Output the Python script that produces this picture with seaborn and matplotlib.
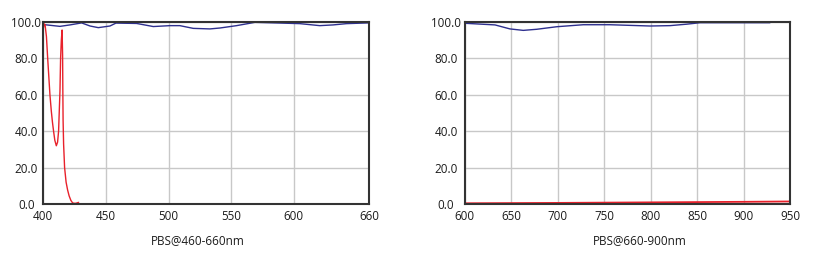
import matplotlib
matplotlib.use("Agg")
import matplotlib.pyplot as plt
import seaborn as sns
import pandas as pd

# ---- data ----
left_blue_nm = [400, 413.3, 421.3, 430.6, 437.3, 443.9, 453.2, 458, 474.5, 487.8, 501.1, 509,
                519.7, 533, 541, 554.3, 568.9, 590, 604.8, 620.7, 631.4, 642, 659.3]
left_blue_val = [98.6, 97.6, 98.4, 99.5, 97.8, 96.9, 97.8, 99.4, 99.2, 97.5, 98.0, 98.0,
                 96.5, 96.2, 96.7, 98.0, 99.8, 99.4, 99.1, 98.0, 98.4, 99.1, 99.5]

left_red_nm = [400, 400.7, 401.4, 402.5, 403.5, 404.4, 405.3, 406.4, 407.3, 408.2, 409.2, 410.4,
               411.4, 412.2, 412.8, 413.3, 413.8, 414.4, 415.0, 415.4, 415.6, 415.8, 416.2,
               417.0, 418.2, 419.4, 420.6, 422.0, 423.2, 424.2, 426.0, 428.2]
left_red_val = [96.5, 99, 98.5, 92, 80, 70, 60, 51, 45, 40, 35, 32,
                34, 40, 52, 62, 80, 90, 95.6, 82, 62, 46, 33,
                20, 12, 7.7, 4.5, 2.0, 0.8, 0.4, 0.4, 0.9]

right_blue_nm = [600, 632.6, 648.7, 663, 677.5, 699, 727.6, 756.3, 799.4, 820.9, 838.8, 853.2, 928.5]
right_blue_val = [99.3, 98.4, 96.2, 95.4, 96.0, 97.4, 98.5, 98.5, 97.8, 98.0, 98.8, 99.6, 99.6]

right_red_nm = [600, 700, 800, 900, 950]
right_red_val = [0.4, 0.6, 0.9, 1.2, 1.4]

left_xticks = [400, 450, 500, 550, 600, 660]
right_xticks = [600, 650, 700, 750, 800, 850, 900, 950]
yticks = [0, 20, 40, 60, 80, 100]
ytick_labels = ["0.0", "20.0", "40.0", "60.0", "80.0", "100.0"]
left_title = "PBS@460-660nm"
right_title = "PBS@660-900nm"

BLUE = "#2d2f8e"
RED = "#e8212b"

sns.set_theme(style="white")
plt.rcParams["font.family"] = ["Open Sans", "DejaVu Sans"]

fig = plt.figure(figsize=(8.17, 2.56), dpi=100)
axL = fig.add_axes([43.3 / 817, 1 - 204 / 256, (369 - 43.3) / 817, 182 / 256])
axR = fig.add_axes([464.7 / 817, 1 - 204 / 256, (790 - 464.7) / 817, 182 / 256])


def style(ax, xlim, xticks, xlabel, ypad, label_x):
    ax.set_xlim(*xlim)
    ax.set_ylim(0, 100)
    ax.set_xticks(xticks)
    ax.set_xticklabels([str(t) for t in xticks])
    ax.set_yticks(yticks)
    ax.set_yticklabels(ytick_labels, ha="center")
    ax.grid(True, color="#c8c8c8", linewidth=1.0)
    ax.set_axisbelow(True)
    for s in ax.spines.values():
        s.set_visible(True)
        s.set_color("#333333")
        s.set_linewidth(1.5)
    ax.tick_params(axis="both", length=0, labelsize=8.4, colors="#1c1c1c")
    ax.tick_params(axis="x", pad=4)
    ax.tick_params(axis="y", pad=ypad)
    ax.set_xlabel(xlabel, fontsize=8.5, color="#1c1c1c", va="center")
    ax.xaxis.set_label_coords(label_x, -0.203)
    ax.set_ylabel("")


dfLb = pd.DataFrame({"nm": left_blue_nm, "val": left_blue_val})
dfLr = pd.DataFrame({"nm": left_red_nm, "val": left_red_val})
dfRb = pd.DataFrame({"nm": right_blue_nm, "val": right_blue_val})
dfRr = pd.DataFrame({"nm": right_red_nm, "val": right_red_val})

sns.lineplot(data=dfLb, x="nm", y="val", ax=axL, color=BLUE, linewidth=1.0, sort=False)
sns.lineplot(data=dfLr, x="nm", y="val", ax=axL, color=RED, linewidth=1.0, sort=False)
sns.lineplot(data=dfRb, x="nm", y="val", ax=axR, color=BLUE, linewidth=1.0, sort=False)
sns.lineplot(data=dfRr, x="nm", y="val", ax=axR, color=RED, linewidth=1.3, sort=False)

style(axL, (400, 660), left_xticks, left_title, 12.3, 0.474)
style(axR, (600, 950), right_xticks, right_title, 13.5, 0.538)

fig.savefig("out.png", dpi=100, facecolor="white")
